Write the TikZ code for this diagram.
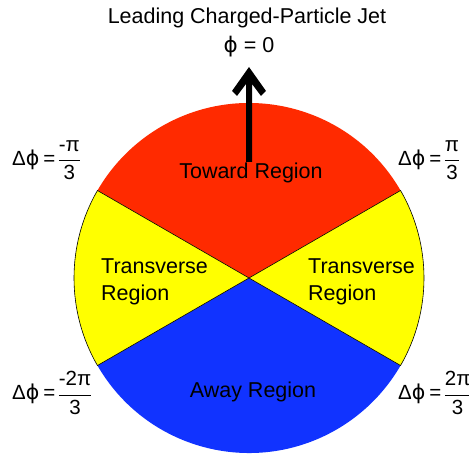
\documentclass[tikz,border=0pt]{standalone}
\usepackage{fontspec}
\setmainfont{Liberation Sans}
\newfontfamily\phifont{DejaVu Sans}
\definecolor{towardred}{RGB}{255,42,0}
\definecolor{awayblue}{RGB}{17,51,255}
\definecolor{transyellow}{RGB}{255,255,0}
\newcommand{\myfr}[2]{$\nulldelimiterspace=0pt\displaystyle\frac{\mbox{#1}}{\mbox{#2}}$}
\newcommand{\ph}{{\phifont\char"03D5}}
\newcommand{\dphi}[2]{Δ\ph\hspace{4pt}=\hspace{3.5pt}\myfr{#1}{#2}}
\begin{document}
\begin{tikzpicture}[x=1pt,y=1pt,
  lbl/.style={inner sep=0pt,font=\fontsize{21.5}{27}\selectfont},
  dlbl/.style={inner sep=0pt,anchor=west,font=\fontsize{20.5}{24}\selectfont},
  sect/.style={draw=black,line width=0.6pt}]
\useasboundingbox (0,0) rectangle (469,453);
\coordinate (C) at (249,175);
\def\R{175}
% sectors
\fill[towardred] (C) -- ++(30:\R) arc (30:150:\R) -- cycle;
\fill[awayblue] (C) -- ++(210:\R) arc (210:330:\R) -- cycle;
\filldraw[transyellow,sect] (C) -- ++(150:\R) arc (150:210:\R) -- cycle;
\filldraw[transyellow,sect] (C) -- ++(-30:\R) arc (-30:30:\R) -- cycle;
% arrow
\fill[black] (249,386) -- (266,362) -- (261,357) -- (252,369) -- (252,291)
  -- (246,291) -- (246,369) -- (237,357) -- (232,362) -- cycle;
% labels
\node[lbl] (title) at (247,435) {Leading Charged-Particle Jet};
\node[lbl] (phi0) at (249,406) {\ph{} = 0};
\node[lbl] (toward) at (251,280) {Toward Region};
\node[lbl,align=left,anchor=west] (transL) at (101,171) {Transverse\\Region};
\node[lbl,align=left,anchor=west] (transR) at (308,171) {Transverse\\Region};
\node[lbl] (away) at (253,61) {Away Region};
\node[dlbl] (dl1) at (12,293) {\dphi{-π}{3}};
\node[dlbl] (dr1) at (398,293) {\dphi{π}{3}};
\node[dlbl] (dl2) at (12,60) {\dphi{-2π}{3}};
\node[dlbl] (dr2) at (398,60) {\dphi{2π}{3}};
\end{tikzpicture}
\end{document}
